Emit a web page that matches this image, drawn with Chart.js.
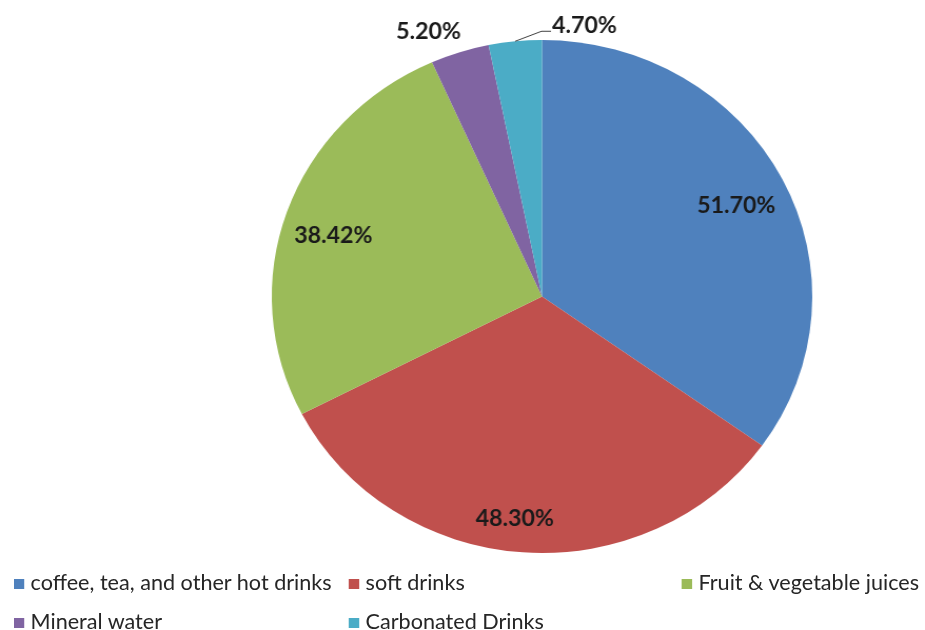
<!DOCTYPE html>
<html>
<head>
<meta charset="utf-8">
<script src="https://cdn.jsdelivr.net/npm/chart.js@4/dist/chart.umd.min.js"></script>
<style>
  html, body { margin: 0; padding: 0; background: #fff; overflow: hidden; }
  #wrap { position: relative; width: 878px; height: 630px; transform: scaleX(1.0535); transform-origin: 0 0; }
  #chartBox { position: absolute; left: 0; top: 0; width: 878px; height: 630px; }
  .leg { position: absolute; font-family: Lato, "Open Sans", sans-serif; font-size: 20.5px; color: #262626; white-space: nowrap; line-height: 22px; }
  .leg i { display: inline-block; width: 10px; height: 10px; margin-right: 6px; vertical-align: 1px; }
</style>
</head>
<body>
<div id="wrap">
  <div id="chartBox"><canvas id="pie"></canvas></div>
  <div id="legend"></div>
</div>
<script>
// Données
const categories = ['coffee, tea, and other hot drinks', 'soft drinks', 'Fruit & vegetable juices', 'Mineral water', 'Carbonated Drinks'];
const values = [51.70, 48.30, 38.42, 5.20, 4.70];
const colors = ['#4F81BD', '#C0504D', '#9BBB59', '#8064A2', '#4BACC6'];

// Étiquettes en pourcentage (pas de plugin datalabels dispo)
const pctLabels = {
  id: 'pctLabels',
  afterDatasetsDraw(chart, args, opts) {
    const ctx = chart.ctx;
    const ds = chart.data.datasets[0];
    ctx.save();
    ctx.font = 'bold 22px Lato, sans-serif';
    ctx.fillStyle = '#1a1a1a';
    ctx.textBaseline = 'middle';
    chart.getDatasetMeta(0).data.forEach((arc, i) => {
      const { x, y, startAngle, endAngle, outerRadius } = arc.getProps(['x', 'y', 'startAngle', 'endAngle', 'outerRadius'], true);
      const mid = (startAngle + endAngle) / 2;
      const p = opts.place[i];
      const txt = ds.data[i].toFixed(2) + '%';
      if (p.leader) {
        const sx = x + Math.cos(mid) * outerRadius, sy = y + Math.sin(mid) * outerRadius;
        const ex = sx + p.leader.dx, ey = sy + p.leader.dy;
        ctx.strokeStyle = '#404040';
        ctx.lineWidth = 1;
        ctx.beginPath();
        ctx.moveTo(sx, sy); ctx.lineTo(ex, ey); ctx.lineTo(ex + p.leader.run, ey);
        ctx.stroke();
        ctx.textAlign = 'left';
        ctx.fillText(txt, ex + p.leader.run + 1, ey - 5);
      } else {
        const r = outerRadius * p.r;
        ctx.textAlign = 'center';
        ctx.fillText(txt, x + Math.cos(mid) * r + (p.dx || 0), y + Math.sin(mid) * r + (p.dy || 0));
      }
    });
    ctx.restore();
  }
};

new Chart(document.getElementById('pie'), {
  type: 'pie',
  data: {
    labels: categories,
    datasets: [{ data: values, backgroundColor: colors, borderWidth: 0 }]
  },
  options: {
    responsive: true,
    maintainAspectRatio: false,
    animation: false,
    layout: { padding: { top: 40, bottom: 77, left: 258, right: 107 } },
    plugins: {
      legend: { display: false },
      tooltip: { enabled: false },
      pctLabels: {
        place: [
          { r: 0.80, dx: 2, dy: 3 },
          { r: 0.87, dx: -10, dy: 0 },
          { r: 0.81, dx: -2, dy: 8 },
          { r: 1.11, dx: -21, dy: 7 },
          { leader: { dx: 25, dy: -10, run: 9 } }
        ]
      }
    }
  },
  plugins: [pctLabels]
});

// Légende façon Excel (grille de colonnes)
const legPos = [[13, 571], [331, 571], [647, 571], [13, 610], [331, 610]];
const legend = document.getElementById('legend');
categories.forEach((c, i) => {
  const d = document.createElement('div');
  d.className = 'leg';
  d.style.left = legPos[i][0] + 'px';
  d.style.top = legPos[i][1] + 'px';
  d.innerHTML = `<i style="background:${colors[i]}"></i>${c.replace('&', '&amp;')}`;
  legend.appendChild(d);
});
</script>
</body>
</html>
